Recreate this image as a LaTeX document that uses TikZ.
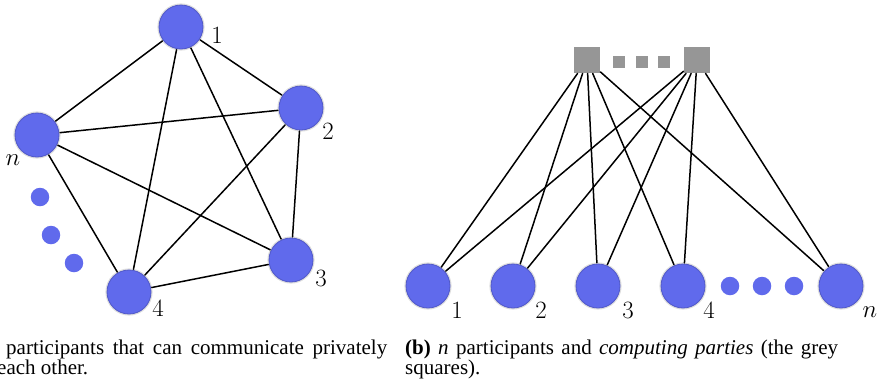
\documentclass[tikz,border=0pt]{standalone}
\usepackage{fontspec}
\newfontfamily\capfont{Liberation Serif}
\definecolor{partyblue}{RGB}{96,106,236}
\definecolor{partyedge}{RGB}{80,88,200}
\definecolor{compgrey}{RGB}{150,150,150}

\begin{document}
\begin{tikzpicture}[x=1pt, y=-1pt, line join=round, line cap=round,
	party/.style={circle, fill=partyblue, draw=partyedge, line width=0.8pt, minimum size=44pt, inner sep=0pt, outer sep=1.2pt,
		preaction={draw=black!13, line width=3.2pt}},
	dot/.style={circle, fill=partyblue, minimum size=18.5pt, inner sep=0pt},
	comp/.style={rectangle, fill=compgrey, minimum size=26.5pt, inner sep=0pt},
	compdot/.style={rectangle, fill=compgrey, minimum size=12.5pt, inner sep=0pt},
	lbl/.style={inner sep=0pt, font=\fontsize{26}{26}\selectfont},
	link/.style={line width=1.5pt},
	captext/.style={inner sep=0pt, anchor=base west, font=\capfont\fontsize{21}{20}\selectfont}]
	\useasboundingbox (0,0) rectangle (884,381);
	
	% (a) participants talking to each other
	\node[party] (a1) at (181,27)  {};
	\node[party] (a2) at (301,108) {};
	\node[party] (a3) at (291,260) {};
	\node[party] (a4) at (129,292) {};
	\node[party] (an) at (37,135)  {};
	\foreach \u/\v in {a1/a2, a1/a3, a1/a4, a1/an, a2/a3, a2/a4, a2/an, a3/a4, a3/an, a4/an}
		\draw[link] (\u) -- (\v);
	\node[dot] (ad1) at (40,197) {};
	\node[dot] (ad2) at (51,235) {};
	\node[dot] (ad3) at (74,263) {};
	
	\node[lbl] (la1) at (217,35)  {$1$};
	\node[lbl] (la2) at (328,131) {$2$};
	\node[lbl] (la3) at (321,278) {$3$};
	\node[lbl] (la4) at (158,308) {$4$};
	\node[lbl] (lan) at (13,160)  {$n$};
	
	% (b) participants and computing parties
	\node[comp] (c1) at (587,60) {};
	\node[comp] (c2) at (697,60) {};
	\node[compdot] (cd1) at (619,62) {};
	\node[compdot] (cd2) at (642,62) {};
	\node[compdot] (cd3) at (664,62) {};
	
	\node[party] (b1) at (428,286) {};
	\node[party] (b2) at (513,286) {};
	\node[party] (b3) at (598,286) {};
	\node[party] (b4) at (683,286) {};
	\node[party] (bn) at (841,286) {};
	\node[dot] (bd1) at (730,286) {};
	\node[dot] (bd2) at (762,286) {};
	\node[dot] (bd3) at (794,286) {};
	\foreach \c in {c1, c2}
		\foreach \b in {b1, b2, b3, b4, bn}
			\draw[link] (\c) -- (\b);
	
	\node[lbl] (lb1) at (457,310) {$1$};
	\node[lbl] (lb2) at (541,310) {$2$};
	\node[lbl] (lb3) at (628,310) {$3$};
	\node[lbl] (lb4) at (709,310) {$4$};
	\node[lbl] (lbn) at (870,312) {$n$};
	
	% captions
	\begin{scope}
		\clip (0,0) rectangle (884,381);
		\node[captext] (capa1) at (6,354)   {\makebox[381pt][s]{participants that can communicate privately}};
		\node[captext] (capa2) at (-3,374)  {each other.};
		\node[captext] (capb1) at (405,354) {\makebox[433pt][s]{\textbf{(b)} \textit{n} participants and \textit{computing parties} (the grey}};
		\node[captext] (capb2) at (405,374) {squares).};
	\end{scope}
\end{tikzpicture}
\end{document}
